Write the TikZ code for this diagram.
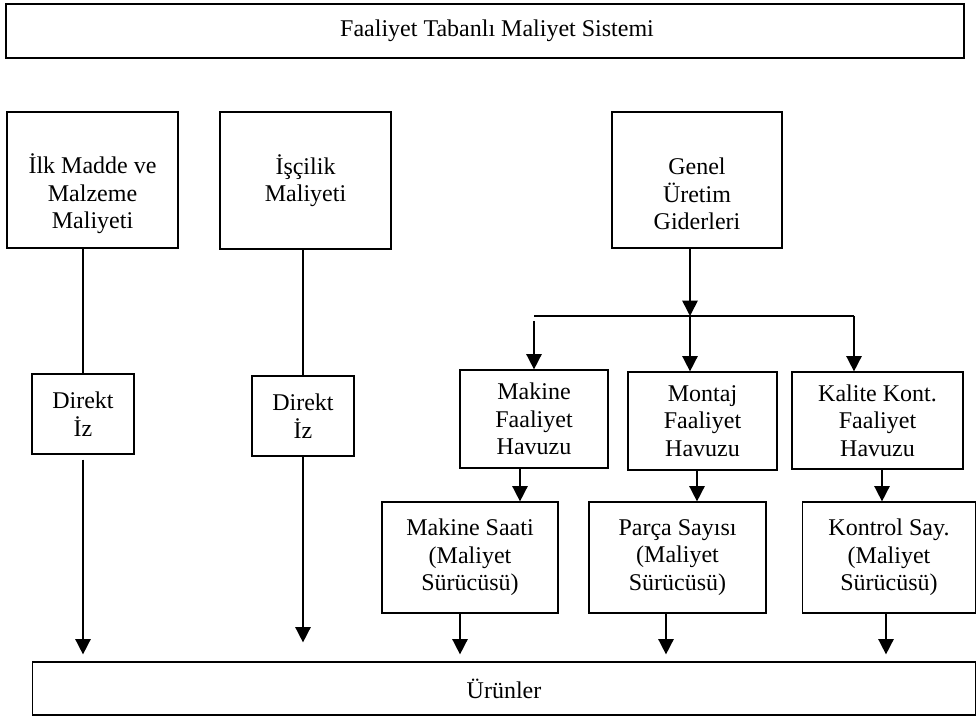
\documentclass[tikz,border=0pt]{standalone}
\usepackage{fontspec}
\setmainfont{Liberation Serif}
\usetikzlibrary{arrows.meta,calc}
\tikzset{
  box/.style={draw, line width=0.9pt, inner sep=0pt, align=center,
    font=\fontsize{18}{20.7}\selectfont},
  titlebox/.style={box, line width=1.4pt},
  txt/.style={inner sep=0pt, align=center, font=\fontsize{18}{20.7}\selectfont},
  link/.style={line width=1.2pt},
  arr/.style={line width=1.2pt, -{Triangle[length=11.5pt,width=11.5pt]}},
}
\begin{document}
\begin{tikzpicture}[x=0.75pt,y=-0.75pt]
\useasboundingbox (0,0) rectangle (977,716);

% heading
\node[titlebox, minimum width=718.5pt, minimum height=40.5pt] (sys) at (485,31)
  {\hspace*{18pt}Faaliyet Tabanlı Maliyet Sistemi};

% cost groups
\node[box, minimum width=128.25pt, minimum height=102pt] (ilk) at (92.5,180) {};
\node[txt] (ilktxt) at ($(ilk.center)+(0,14)$) {İlk Madde ve\\Malzeme\\Maliyeti};
\node[box, minimum width=128.25pt, minimum height=102.75pt] (isc) at (305.5,180.5)
  {İşçilik\\Maliyeti};
\node[box, minimum width=127.5pt, minimum height=102pt] (genel) at (697,180) {};
\node[txt] (geneltxt) at ($(genel.center)+(0,14)$) {Genel\\Üretim\\Giderleri};

% direct tracing
\node[box, minimum width=76.5pt, minimum height=60pt] (direkt1) at (83,414) {Direkt\\İz};
\node[box, minimum width=76.5pt, minimum height=60pt] (direkt2) at (303,416) {Direkt\\İz};

% activity pools
\node[box, minimum width=111pt, minimum height=73.5pt] (mak) at (534,419)
  {Makine\\Faaliyet\\Havuzu};
\node[box, minimum width=111.75pt, minimum height=73.5pt] (mon) at (702.5,421)
  {Montaj\\Faaliyet\\Havuzu};
\node[box, minimum width=128.25pt, minimum height=72.75pt] (kal) at (877.5,420.5)
  {Kalite Kont.\\Faaliyet\\Havuzu};

% cost drivers
\node[box, minimum width=132pt, minimum height=83.25pt] (ms) at (470,557.5)
  {Makine Saati\\(Maliyet\\Sürücüsü)};
\node[box, minimum width=132.75pt, minimum height=83.25pt] (ps) at (677.5,557.5)
  {Parça Sayısı\\(Maliyet\\Sürücüsü)};
\node[box, minimum width=129.75pt, minimum height=83.25pt] (ks) at (889,557.5)
  {Kontrol Say.\\(Maliyet\\Sürücüsü)};

% products
\node[box, minimum width=707.25pt, minimum height=39.75pt] (urun) at (504,688.5) {Ürünler};

% branch points
\coordinate (split) at (690,316);
\coordinate (barL) at (534,316);
\coordinate (barR) at (854,316);
\coordinate (m1) at ($(mak.south)+(-14,0)$);
\coordinate (m2) at ($(mon.south)+(-5.5,0)$);
\coordinate (m3) at ($(kal.south)+(4.5,0)$);
\coordinate (d1) at ($(ms.south)+(-10,0)$);
\coordinate (d2) at ($(ps.south)+(-11.5,0)$);
\coordinate (d3) at ($(ks.south)+(-3,0)$);

% direct cost paths
\draw[link] (ilk.south -| direkt1) -- (direkt1.north);
\draw[link] (isc.south -| direkt2) -- (direkt2.north);
\draw[arr, shorten <=3.75pt, shorten >=5.25pt] (direkt1.south) -- (direkt1.south |- urun.north);
\draw[arr, shorten >=14.25pt] (direkt2.south) -- (direkt2.south |- urun.north);

% overhead distribution
\draw[arr] (genel.south -| split) -- (split);
\draw[link] (barL) -- (barR);
\draw[arr, shorten <=3.75pt] (barL) -- (barL |- mak.north);
\draw[arr] (split) -- (split |- mon.north);
\draw[arr] (barR) -- (barR |- kal.north);

% pools to drivers
\draw[arr] (m1) -- (m1 |- ms.north);
\draw[arr] (m2) -- (m2 |- ps.north);
\draw[arr] (m3) -- (m3 |- ks.north);

% drivers to products
\draw[arr, shorten >=5.25pt] (d1) -- (d1 |- urun.north);
\draw[arr, shorten >=5.25pt] (d2) -- (d2 |- urun.north);
\draw[arr, shorten >=5.25pt] (d3) -- (d3 |- urun.north);
\end{tikzpicture}
\end{document}
